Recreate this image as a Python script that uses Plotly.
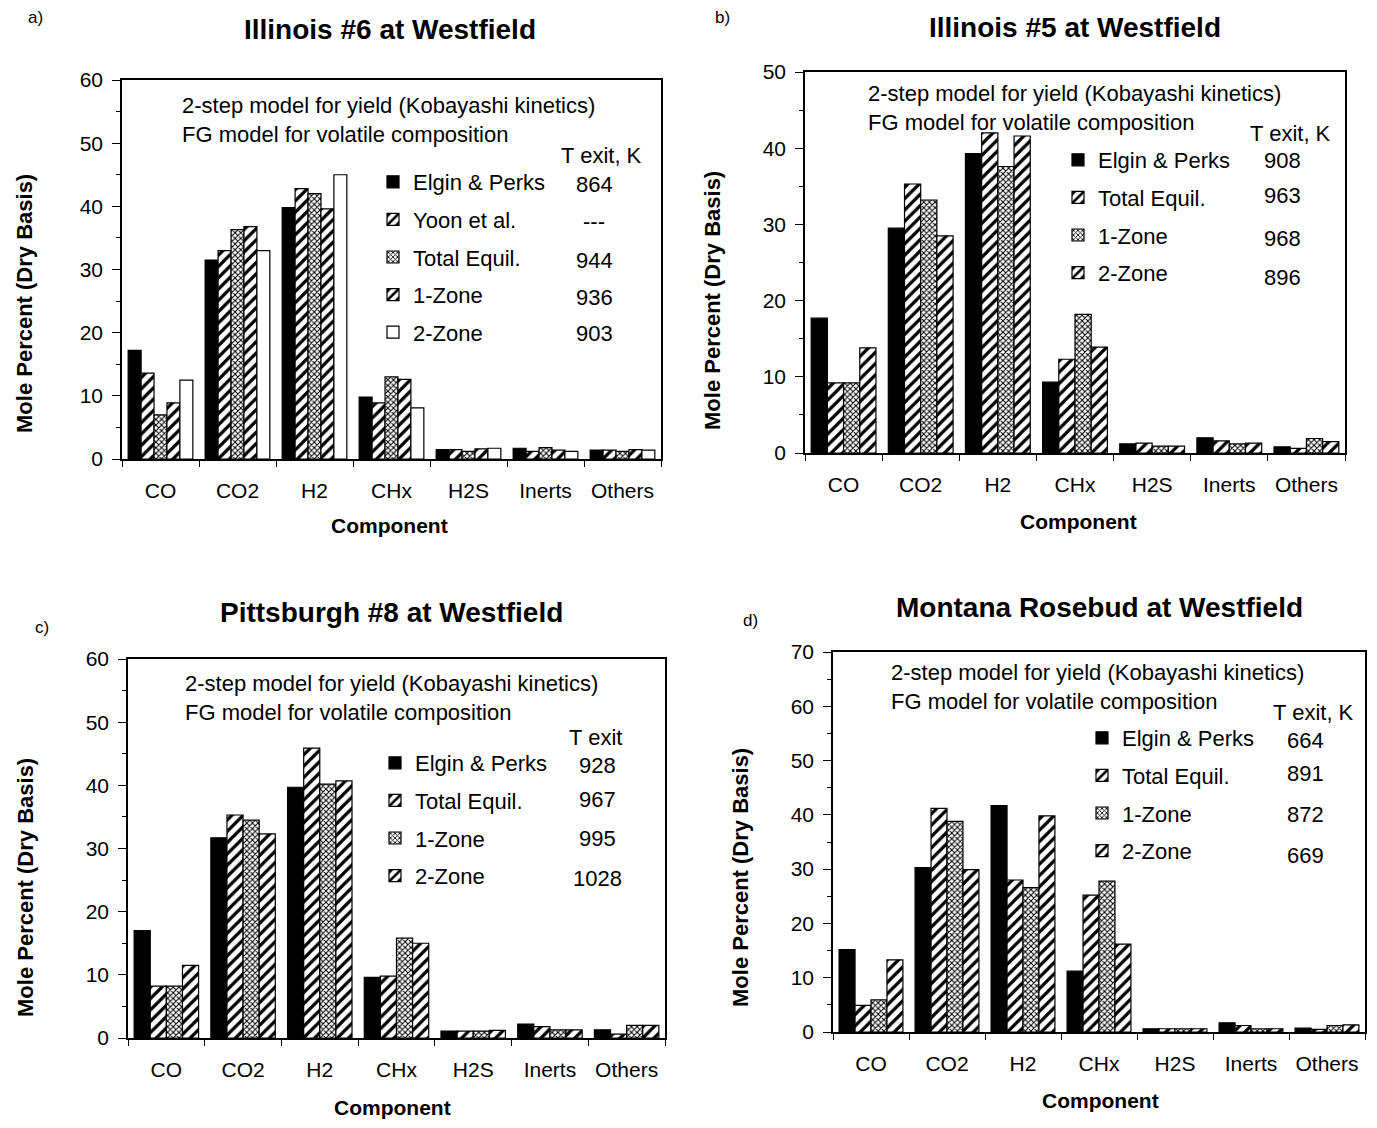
import plotly.graph_objects as go

W, H = 1377, 1128

categories = ["CO", "CO2", "H2", "CHx", "H2S", "Inerts", "Others"]

# Panel a) Illinois #6
a_series = ["Elgin & Perks", "Yoon et al.", "Total Equil.", "1-Zone", "2-Zone"]
a_elgin = [17.2, 31.5, 39.8, 9.8, 1.5, 1.7, 1.4]
a_yoon = [13.6, 33.0, 42.8, 8.9, 1.5, 1.2, 1.4]
a_total = [7.0, 36.3, 42.0, 13.0, 1.2, 1.8, 1.2]
a_zone1 = [8.9, 36.8, 39.6, 12.6, 1.6, 1.4, 1.5]
a_zone2 = [12.5, 33.0, 45.0, 8.1, 1.7, 1.2, 1.4]
a_texit = ["864", "---", "944", "936", "903"]

# Panel b) Illinois #5
b_series = ["Elgin & Perks", "Total Equil.", "1-Zone", "2-Zone"]
b_elgin = [17.7, 29.5, 39.3, 9.3, 1.2, 2.0, 0.8]
b_total = [9.2, 35.3, 42.0, 12.3, 1.3, 1.6, 0.6]
b_zone1 = [9.2, 33.2, 37.6, 18.2, 0.9, 1.2, 1.9]
b_zone2 = [13.8, 28.5, 41.6, 13.9, 0.9, 1.3, 1.5]
b_texit = ["908", "963", "968", "896"]

# Panel c) Pittsburgh #8
c_series = ["Elgin & Perks", "Total Equil.", "1-Zone", "2-Zone"]
c_elgin = [17.0, 31.7, 39.7, 9.6, 1.1, 2.2, 1.3]
c_total = [8.2, 35.3, 45.9, 9.8, 1.1, 1.8, 0.6]
c_zone1 = [8.2, 34.5, 40.2, 15.8, 1.1, 1.3, 2.0]
c_zone2 = [11.5, 32.3, 40.7, 15.0, 1.2, 1.3, 2.0]
c_texit = ["928", "967", "995", "1028"]

# Panel d) Montana Rosebud
d_series = ["Elgin & Perks", "Total Equil.", "1-Zone", "2-Zone"]
d_elgin = [15.2, 30.3, 41.7, 11.2, 0.6, 1.7, 0.7]
d_total = [4.9, 41.2, 28.0, 25.2, 0.6, 1.2, 0.5]
d_zone1 = [5.9, 38.8, 26.6, 27.8, 0.6, 0.6, 1.2]
d_zone2 = [13.3, 29.9, 39.8, 16.2, 0.6, 0.6, 1.3]
d_texit = ["664", "891", "872", "669"]

titles = ["Illinois #6 at Westfield", "Illinois #5 at Westfield",
          "Pittsburgh #8 at Westfield", "Montana Rosebud at Westfield"]
panel_labels = ["a)", "b)", "c)", "d)"]
y_max = [60, 50, 60, 70]

FONT = "Liberation Sans, Arial, sans-serif"


def px(x):
    return x / W


def py(y):
    return 1 - y / H


STYLES = {
    "solid": dict(color="black"),
    "hatch": dict(color="white", pattern=dict(shape="/", fgcolor="black", bgcolor="white",
                                              size=8, solidity=0.4, fillmode="replace")),
    "stipple": dict(color="white", pattern=dict(shape="x", fgcolor="black", bgcolor="white",
                                                size=4, solidity=0.45, fillmode="replace")),
    "white": dict(color="white"),
}

panels = [
    dict(series=a_series, values=[a_elgin, a_yoon, a_total, a_zone1, a_zone2],
         styles=["solid", "hatch", "stipple", "hatch", "white"], texit=a_texit,
         dom_x=(122, 661), dom_y=(80, 459), header="T exit, K"),
    dict(series=b_series, values=[b_elgin, b_total, b_zone1, b_zone2],
         styles=["solid", "hatch", "stipple", "hatch"], texit=b_texit,
         dom_x=(805, 1345), dom_y=(72, 453), header="T exit, K"),
    dict(series=c_series, values=[c_elgin, c_total, c_zone1, c_zone2],
         styles=["solid", "hatch", "stipple", "hatch"], texit=c_texit,
         dom_x=(128, 665), dom_y=(659, 1038), header="T exit"),
    dict(series=d_series, values=[d_elgin, d_total, d_zone1, d_zone2],
         styles=["solid", "hatch", "stipple", "hatch"], texit=d_texit,
         dom_x=(833, 1365), dom_y=(652, 1032), header="T exit, K"),
]

# text layout (pixel positions of decorations)
title_pos = [(390, 30), (1075, 28), (391, 612), (1099, 607)]
label_pos = [(35, 18), (722, 18), (42, 627), (750, 620)]
note_pos = [(180, 120), (866, 108), (183, 698), (889, 687)]
header_pos = [(601, 155), (1290, 133), (595, 737), (1313, 712)]
texit_x = [594, 1282, 597, 1305]
texit_y = [[184, 222, 260, 297, 333], [161, 196, 238, 277], [765, 799, 838, 878],
           [740, 773, 815, 855]]
legend_pos = [(373, 161), (1058, 139), (375, 742), (1082, 717)]
ytitle_pos = [(25, 304), (712, 300), (25, 888), (740, 878)]
comp_pos = [(390, 525), (1078, 521), (392, 1107), (1100, 1100)]

fig = go.Figure()
annotations = []


def ann(x, y, text, size, **kw):
    d = dict(x=px(x), y=py(y), text=text, showarrow=False, xref="paper", yref="paper",
             xanchor="center", yanchor="middle",
             font=dict(family=FONT, size=size, color="black"))
    d.update(kw)
    annotations.append(d)


for i, p in enumerate(panels):
    n = i + 1
    xa = "x" if n == 1 else f"x{n}"
    ya = "y" if n == 1 else f"y{n}"
    lg = "legend" if n == 1 else f"legend{n}"
    for name, vals, st in zip(p["series"], p["values"], p["styles"]):
        fig.add_trace(go.Bar(
            x=categories, y=vals, name=name, xaxis=xa, yaxis=ya, legend=lg,
            legendgroup=f"{n}-{name}",
            marker=dict(**STYLES[st], line=dict(color="black", width=1.2)),
        ))
    axis_common = dict(showline=True, linecolor="black", linewidth=1.5, mirror=True,
                       showgrid=False, zeroline=False, ticks="outside",
                       tickcolor="black", tickfont=dict(family=FONT, size=21, color="black"))
    fig.layout[f"xaxis{'' if n == 1 else n}"] = dict(
        domain=[px(p["dom_x"][0]), px(p["dom_x"][1])], anchor=ya,
        tickson="boundaries", ticklen=6, type="category", ticklabelstandoff=12,
        **axis_common)
    fig.layout[f"yaxis{'' if n == 1 else n}"] = dict(
        domain=[py(p["dom_y"][1]), py(p["dom_y"][0])], anchor=xa,
        range=[0, y_max[i]], dtick=10, ticklen=8, ticklabelstandoff=5,
        minor=dict(dtick=5, ticklen=4, ticks="outside", tickcolor="black"),
        **axis_common)
    fig.layout[lg] = dict(
        x=px(legend_pos[i][0]), y=py(legend_pos[i][1]), xanchor="left", yanchor="top",
        bgcolor="rgba(0,0,0,0)", traceorder="grouped", tracegroupgap=6,
        font=dict(family=FONT, size=22, color="black"),
    )
    ann(*title_pos[i], f"<b>{titles[i]}</b>", 28)
    ann(*label_pos[i], panel_labels[i], 17)
    ann(*note_pos[i], "2-step model for yield (Kobayashi kinetics)<br>FG model for volatile composition",
        22, xanchor="left", align="left")
    ann(*header_pos[i], p["header"], 22)
    for t, yy in zip(p["texit"], texit_y[i]):
        ann(texit_x[i], yy, t, 22)
    ann(*ytitle_pos[i], "<b>Mole Percent (Dry Basis)</b>", 22, textangle=-90)
    ann(*comp_pos[i], "<b>Component</b>", 21)

fig.update_layout(
    width=W, height=H, margin=dict(l=0, r=0, t=0, b=0, autoexpand=False),
    paper_bgcolor="white", plot_bgcolor="white",
    barmode="group", bargap=0.16, bargroupgap=0.0,
    annotations=annotations, showlegend=True,
    font=dict(family=FONT, color="black"),
)

fig.write_html("out.html", config={"displayModeBar": False})
with open("out.html", "r", encoding="utf-8") as f:
    html = f.read()
html = html.replace("<body>", "<body style=\"margin:0\">", 1)
with open("out.html", "w", encoding="utf-8") as f:
    f.write(html)
